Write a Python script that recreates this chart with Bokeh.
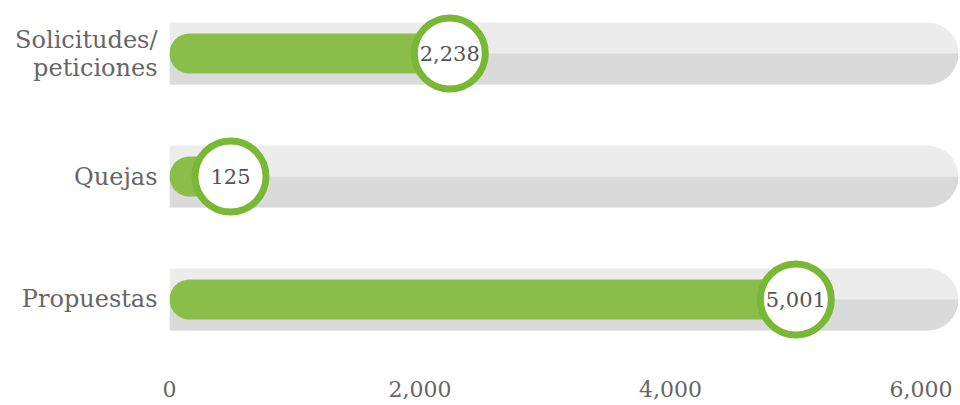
import numpy as np
from bokeh.plotting import figure
from bokeh.models import ColumnDataSource, Range1d, FixedTicker, NumeralTickFormatter
from bokeh.core.properties import value
from bokeh.embed import file_html
from bokeh.resources import INLINE

# ---- data ----
categories = ["Solicitudes/\npeticiones", "Quejas", "Propuestas"]
counts = [2238, 125, 5001]
x_ticks = [0, 2000, 4000, 6000]
x_max = 6300          # end of grey track (past last tick)
marker_min = 487      # smallest x where a value badge is placed

rows = [3, 2, 1]
badge_x = np.maximum(np.array(counts), marker_min)
labels = [f"{v:,}" for v in counts]

src = ColumnDataSource(dict(
    y=rows,
    yb=[r - 0.126 for r in rows],
    x=counts,
    bx=badge_x,
    lab=labels,
    zero=[0] * 3,
    end=[x_max] * 3,
))

FONT = "DejaVu Serif"

p = figure(width=960, height=405,
           x_range=Range1d(0, x_max), y_range=Range1d(0.5691, 3.4309),
           output_backend="svg", toolbar_location=None,
           min_border_left=169, min_border_right=2,
           min_border_top=0, min_border_bottom=53)
p.outline_line_color = None
p.grid.visible = False

# grey track (light top, darker bottom half)
p.hbar(y="y", left="zero", right="end", height=0.504, source=src,
       fill_color="#ececec", line_color=None, border_radius=(0, 31, 31, 0))
p.hbar(y="yb", left="zero", right="end", height=0.252, source=src,
       fill_color="#dadada", line_color=None, border_radius=(0, 0, 31, 0))

# green bar
p.hbar(y="y", left="zero", right="bx", height=0.325, source=src,
       fill_color="#8bbd4a", line_color=None, border_radius=20)

# badge
p.scatter(x="bx", y="y", source=src, size=71, marker="circle",
          fill_color="white", line_color="#79b834", line_width=7)
p.text(x="bx", y="y", text="lab", source=src, text_align="center",
       text_baseline="middle",
       text_font=value(FONT),
       text_font_size="21px", text_color="#555555")

# axes
xa = p.xaxis[0]
xa.ticker = FixedTicker(ticks=x_ticks)
xa.formatter = NumeralTickFormatter(format="0,0")
xa.axis_line_color = None
xa.major_tick_line_color = None
xa.minor_tick_line_color = None
xa.major_tick_out = 0
xa.major_label_standoff = 28
xa.major_label_text_font = FONT
xa.major_label_text_font_size = "22px"
xa.major_label_text_color = "#666666"

ya = p.yaxis[0]
ya.ticker = FixedTicker(ticks=rows)
ya.major_label_overrides = {r: c for r, c in zip(rows, categories)}
ya.axis_line_color = None
ya.major_tick_line_color = None
ya.minor_tick_line_color = None
ya.major_tick_out = 0
ya.major_label_standoff = 12
ya.major_label_text_font = FONT
ya.major_label_text_font_size = "24px"
ya.major_label_text_line_height = 1.0
ya.major_label_text_color = "#666666"

open("out.html", "w").write(file_html(p, INLINE))
